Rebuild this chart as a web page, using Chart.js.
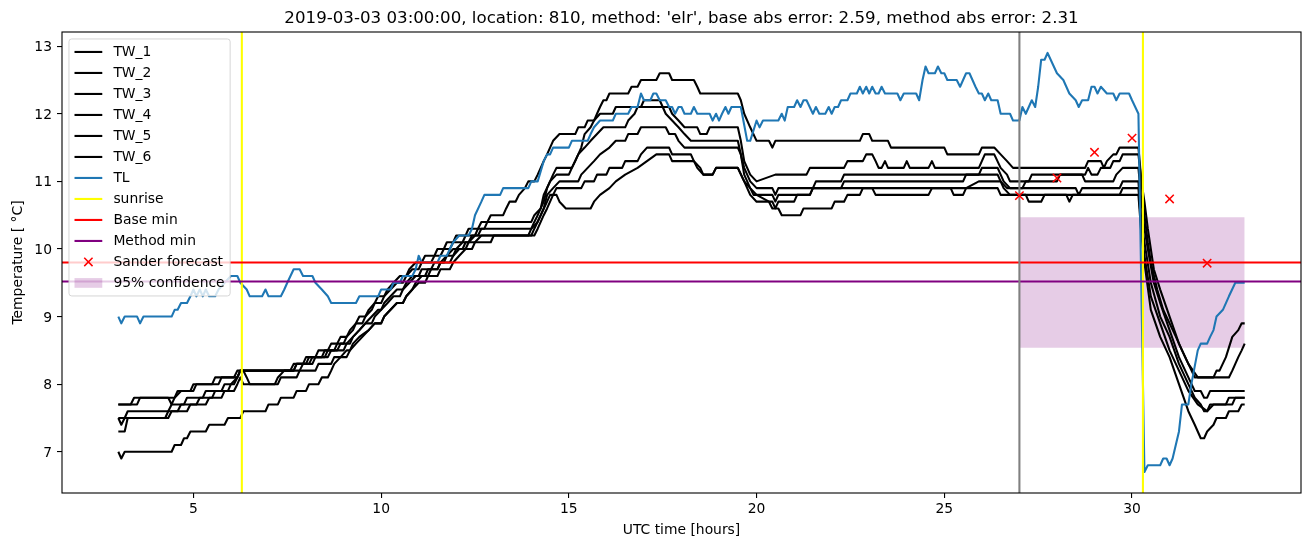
<!DOCTYPE html>
<html><head><meta charset="utf-8">
<script src="https://cdn.jsdelivr.net/npm/chart.js@4/dist/chart.umd.min.js"></script>
<style>html,body{margin:0;padding:0;background:#fff}#wrap{width:1311px;height:547px}</style>
</head><body><div id="wrap"><canvas id="c" width="1311" height="547"></canvas></div>
<script>
// ---------- data (hours UTC, temperature °C) ----------
const TW_1 = [[3.0,7.7],[3.33,7.7],[3.42,7.8],[4.33,7.8],[4.42,7.7],[4.5,7.8],[4.67,7.9],[4.92,7.9],[5.0,8.0],[5.5,8.0],[5.58,8.1],[6.08,8.1],[6.17,8.2],[7.67,8.2],[7.75,8.3],[7.92,8.3],[8.0,8.4],[8.25,8.4],[8.33,8.5],[8.58,8.5],[8.67,8.6],[8.83,8.6],[8.92,8.7],[9.08,8.7],[9.17,8.8],[9.33,8.9],[9.42,9.0],[9.58,9.0],[9.67,9.1],[9.83,9.2],[9.92,9.3],[10.08,9.3],[10.17,9.4],[10.33,9.5],[10.5,9.6],[10.67,9.6],[10.75,9.7],[10.92,9.8],[11.08,9.8],[11.17,9.9],[11.42,9.9],[11.5,10.0],[11.67,10.0],[11.75,10.1],[11.92,10.1],[12.0,10.2],[12.25,10.2],[12.33,10.3],[12.58,10.3],[12.67,10.4],[12.83,10.4],[12.92,10.5],[13.25,10.5],[13.33,10.6],[13.42,10.7],[13.58,10.7],[13.67,10.8],[13.83,10.9],[13.92,11.0],[14.08,11.0],[14.17,11.1],[14.33,11.3],[14.42,11.4],[14.5,11.5],[14.58,11.6],[14.75,11.7],[15.17,11.7],[15.25,11.8],[15.42,11.8],[15.5,11.9],[15.67,11.9],[15.75,12.0],[15.83,12.1],[15.92,12.2],[16.0,12.2],[16.08,12.3],[16.58,12.3],[16.67,12.4],[16.83,12.4],[16.92,12.5],[17.33,12.5],[17.42,12.6],[17.67,12.6],[17.75,12.5],[18.33,12.5],[18.42,12.4],[18.5,12.3],[19.5,12.3],[19.58,12.2],[19.67,12.0],[19.83,11.8],[20.0,11.6],[20.33,11.6],[20.42,11.5],[20.5,11.6],[22.75,11.6],[22.83,11.7],[23.0,11.7],[23.08,11.6],[23.5,11.6],[23.58,11.5],[25.0,11.5],[25.08,11.4],[25.92,11.4],[26.0,11.5],[26.33,11.5],[26.5,11.4],[26.67,11.3],[26.83,11.2],[28.75,11.2],[28.83,11.3],[29.17,11.3],[29.25,11.2],[29.33,11.3],[29.5,11.4],[29.58,11.4],[29.67,11.5],[30.17,11.5],[30.25,11.0],[30.33,10.5],[30.42,10.1],[30.5,9.8],[30.67,9.4],[30.83,9.1],[31.0,8.9],[31.17,8.7],[31.33,8.5],[31.5,8.3],[31.67,8.1],[32.17,8.1],[32.25,8.2],[32.33,8.2],[32.5,8.4],[32.67,8.7],[32.83,8.8],[32.92,8.9],[33.0,8.9]];
const TW_2 = [[3.0,7.7],[3.5,7.7],[3.58,7.8],[4.5,7.8],[4.58,7.9],[5.0,7.9],[5.08,8.0],[5.67,8.0],[5.75,8.1],[6.17,8.1],[6.25,8.2],[7.58,8.2],[7.67,8.3],[8.0,8.3],[8.08,8.4],[8.42,8.4],[8.5,8.5],[8.75,8.5],[8.83,8.6],[9.0,8.6],[9.08,8.7],[9.25,8.8],[9.33,8.9],[9.5,8.9],[9.58,9.0],[9.75,9.1],[9.83,9.2],[10.0,9.2],[10.08,9.3],[10.25,9.4],[10.42,9.5],[10.58,9.5],[10.67,9.6],[10.83,9.7],[11.0,9.7],[11.08,9.8],[11.33,9.8],[11.42,9.9],[11.58,9.9],[11.67,10.0],[11.83,10.0],[11.92,10.1],[12.17,10.1],[12.25,10.2],[12.5,10.2],[12.58,10.3],[12.75,10.3],[12.83,10.4],[14.0,10.4],[14.08,10.5],[14.25,10.6],[14.33,10.8],[14.5,11.0],[14.58,11.1],[14.67,11.2],[15.08,11.2],[15.17,11.3],[15.33,11.5],[15.42,11.7],[15.58,11.8],[15.67,11.9],[15.83,12.0],[16.17,12.0],[16.25,12.1],[16.92,12.1],[17.0,12.2],[17.42,12.2],[17.5,12.1],[17.67,12.1],[17.75,12.0],[17.92,11.9],[18.08,11.8],[18.42,11.8],[18.5,11.7],[18.67,11.7],[18.75,11.8],[19.5,11.8],[19.58,11.6],[19.67,11.3],[19.83,11.1],[20.0,11.0],[20.5,11.1],[21.33,11.1],[21.42,11.2],[22.33,11.2],[22.42,11.3],[22.83,11.3],[22.92,11.4],[23.08,11.4],[23.17,11.3],[23.25,11.2],[23.33,11.2],[23.42,11.3],[23.5,11.2],[23.92,11.2],[24.0,11.3],[24.08,11.2],[24.58,11.2],[24.67,11.3],[24.75,11.2],[25.92,11.2],[26.0,11.3],[26.08,11.4],[26.33,11.4],[26.5,11.2],[26.67,11.1],[26.75,11.0],[27.25,11.0],[27.33,11.1],[28.75,11.1],[28.83,11.2],[28.92,11.1],[29.08,11.1],[29.17,11.2],[29.42,11.2],[29.5,11.3],[29.67,11.3],[29.75,11.4],[30.17,11.4],[30.25,11.0],[30.33,10.7],[30.42,10.3],[30.5,10.0],[30.58,9.7],[30.75,9.4],[31.0,9.0],[31.25,8.6],[31.5,8.3],[31.75,8.1],[32.5,8.1],[32.58,8.1],[32.67,8.2],[32.75,8.3],[32.83,8.4],[32.92,8.5],[33.0,8.6]];
const TW_3 = [[3.0,7.5],[3.08,7.4],[3.17,7.5],[3.25,7.6],[4.33,7.6],[4.42,7.7],[4.75,7.7],[4.83,7.8],[5.25,7.8],[5.33,7.9],[5.75,7.9],[5.83,8.0],[6.08,8.0],[6.17,8.1],[6.25,8.2],[6.33,8.2],[6.42,8.1],[6.5,8.0],[7.17,8.0],[7.25,8.1],[7.42,8.2],[7.67,8.2],[7.75,8.3],[8.08,8.3],[8.17,8.4],[8.5,8.4],[8.58,8.5],[8.83,8.5],[8.92,8.6],[9.17,8.6],[9.25,8.7],[9.42,8.8],[9.58,8.9],[9.75,9.0],[9.92,9.1],[10.0,9.1],[10.08,9.2],[10.25,9.3],[10.42,9.4],[10.58,9.4],[10.67,9.5],[10.83,9.6],[11.0,9.6],[11.08,9.7],[11.33,9.7],[11.42,9.8],[11.67,9.8],[11.75,9.9],[11.92,9.9],[12.0,10.0],[12.17,10.1],[12.33,10.1],[12.42,10.2],[12.58,10.2],[12.67,10.3],[14.0,10.3],[14.08,10.4],[14.17,10.5],[14.33,10.7],[14.42,10.9],[14.5,11.0],[14.67,11.1],[15.0,11.1],[15.08,11.2],[15.25,11.4],[15.42,11.5],[15.58,11.6],[15.75,11.7],[15.92,11.8],[16.5,11.8],[16.58,11.9],[16.75,12.0],[16.83,12.1],[17.5,12.1],[17.58,12.0],[17.75,11.9],[17.92,11.8],[18.08,11.7],[18.25,11.6],[19.5,11.6],[19.58,11.4],[19.67,11.2],[19.83,11.0],[20.0,10.9],[20.42,10.9],[20.5,10.8],[20.58,10.9],[21.5,10.9],[21.58,11.0],[22.25,11.0],[22.33,11.1],[25.92,11.1],[26.0,11.2],[26.42,11.2],[26.5,11.1],[26.58,11.0],[26.75,10.9],[27.08,10.9],[27.17,11.0],[28.0,11.0],[28.08,11.1],[28.67,11.1],[28.75,11.0],[29.5,11.0],[29.58,11.1],[29.75,11.2],[30.17,11.2],[30.25,10.7],[30.33,10.3],[30.42,10.0],[30.58,9.5],[30.75,9.2],[31.0,8.8],[31.25,8.4],[31.5,8.1],[31.67,7.9],[31.83,7.9],[31.92,7.8],[32.0,7.8],[32.08,7.9],[33.0,7.9]];
const TW_4 = [[3.0,7.5],[4.25,7.5],[4.33,7.6],[4.58,7.6],[4.67,7.7],[5.08,7.7],[5.17,7.8],[5.5,7.8],[5.58,7.9],[5.92,7.9],[6.0,8.0],[6.17,8.1],[6.25,8.2],[7.83,8.2],[7.92,8.3],[8.17,8.3],[8.25,8.4],[8.58,8.4],[8.67,8.5],[9.0,8.5],[9.08,8.6],[9.25,8.7],[9.42,8.8],[9.58,8.9],[9.75,8.9],[9.83,9.0],[10.0,9.1],[10.17,9.2],[10.33,9.3],[10.5,9.3],[10.58,9.4],[10.75,9.5],[10.92,9.6],[11.17,9.6],[11.25,9.7],[11.5,9.7],[11.58,9.8],[11.83,9.8],[11.92,9.9],[12.08,10.0],[12.25,10.0],[12.33,10.1],[12.5,10.2],[14.0,10.2],[14.08,10.3],[14.25,10.5],[14.33,10.6],[14.42,10.8],[14.58,10.9],[14.75,11.0],[15.25,11.0],[15.33,11.1],[15.5,11.2],[15.67,11.3],[15.83,11.4],[16.08,11.5],[16.25,11.6],[16.5,11.6],[16.58,11.7],[16.83,11.7],[16.92,11.8],[17.58,11.8],[17.67,11.7],[17.83,11.7],[17.92,11.6],[18.08,11.5],[19.5,11.5],[19.58,11.4],[19.67,11.1],[19.83,10.9],[19.92,10.8],[20.42,10.8],[20.5,10.7],[20.58,10.8],[21.42,10.8],[21.5,10.9],[22.25,10.9],[22.33,11.0],[25.5,11.0],[25.58,11.1],[26.42,11.1],[26.5,11.0],[26.67,10.9],[28.5,10.9],[28.58,10.8],[28.67,10.9],[29.67,10.9],[29.75,11.0],[30.17,11.0],[30.25,10.4],[30.33,10.1],[30.5,9.5],[30.75,9.0],[31.0,8.7],[31.25,8.3],[31.5,8.0],[31.67,7.8],[31.83,7.7],[31.92,7.6],[32.0,7.6],[32.08,7.7],[32.5,7.7],[32.58,7.8],[33.0,7.8]];
const TW_5 = [[3.0,7.3],[3.17,7.3],[3.25,7.5],[4.33,7.5],[4.42,7.6],[4.83,7.6],[4.92,7.7],[5.33,7.7],[5.42,7.8],[5.75,7.8],[5.83,7.9],[6.08,7.9],[6.17,8.0],[6.25,8.1],[6.33,8.0],[7.25,8.0],[7.33,8.1],[7.75,8.1],[7.83,8.2],[8.25,8.2],[8.33,8.3],[8.67,8.3],[8.75,8.4],[9.08,8.4],[9.17,8.5],[9.33,8.6],[9.5,8.7],[9.67,8.8],[9.83,8.9],[10.0,8.9],[10.08,9.0],[10.25,9.1],[10.42,9.2],[10.58,9.2],[10.67,9.3],[10.83,9.4],[11.0,9.5],[11.17,9.5],[11.25,9.6],[11.5,9.6],[11.58,9.7],[11.83,9.7],[11.92,9.8],[12.08,9.9],[12.25,10.0],[12.42,10.0],[12.5,10.1],[12.67,10.2],[14.08,10.2],[14.17,10.3],[14.33,10.5],[14.42,10.6],[14.58,10.8],[14.67,10.9],[15.33,10.9],[15.42,11.0],[15.67,11.0],[15.75,11.1],[16.0,11.1],[16.08,11.2],[16.42,11.2],[16.5,11.3],[16.83,11.3],[16.92,11.4],[17.08,11.5],[17.67,11.5],[17.75,11.4],[18.25,11.4],[18.33,11.3],[18.5,11.2],[18.58,11.1],[18.83,11.1],[18.92,11.2],[19.5,11.2],[19.67,11.0],[19.83,10.8],[20.0,10.7],[20.42,10.7],[20.5,10.6],[20.58,10.7],[21.0,10.7],[21.08,10.8],[21.42,10.8],[21.5,10.9],[26.42,10.9],[26.5,10.8],[28.25,10.8],[28.33,10.7],[28.42,10.8],[29.67,10.8],[29.75,10.9],[30.17,10.9],[30.25,10.3],[30.33,9.9],[30.5,9.3],[30.75,8.9],[31.0,8.5],[31.25,8.2],[31.5,7.9],[31.75,7.7],[32.0,7.6],[32.17,7.7],[32.67,7.7],[32.75,7.8],[33.0,7.8]];
const TW_6 = [[3.0,7.0],[3.08,6.9],[3.17,7.0],[4.42,7.0],[4.5,7.1],[4.67,7.1],[4.75,7.2],[4.83,7.2],[4.92,7.3],[5.33,7.3],[5.42,7.4],[5.83,7.4],[5.92,7.5],[6.25,7.5],[6.33,7.6],[6.92,7.6],[7.0,7.7],[7.25,7.7],[7.33,7.8],[7.67,7.8],[7.75,7.9],[8.0,7.9],[8.08,8.0],[8.33,8.0],[8.42,8.1],[8.58,8.1],[8.67,8.2],[8.75,8.3],[8.92,8.4],[9.08,8.5],[9.17,8.5],[9.25,8.6],[9.42,8.7],[9.67,8.8],[9.83,8.9],[10.0,8.9],[10.08,9.0],[10.25,9.1],[10.42,9.2],[10.58,9.2],[10.67,9.3],[10.83,9.4],[10.92,9.5],[11.08,9.6],[11.25,9.6],[11.33,9.7],[11.5,9.7],[11.58,9.8],[11.75,9.9],[11.92,10.0],[12.17,10.0],[12.25,10.1],[12.92,10.1],[13.0,10.2],[13.92,10.2],[14.0,10.3],[14.17,10.4],[14.25,10.5],[14.42,10.7],[14.5,10.8],[14.67,10.8],[14.75,10.7],[14.92,10.6],[15.58,10.6],[15.67,10.7],[15.83,10.8],[16.08,10.9],[16.25,11.0],[16.5,11.1],[16.83,11.2],[17.08,11.3],[17.33,11.4],[17.67,11.4],[17.75,11.3],[18.33,11.3],[18.42,11.2],[18.58,11.1],[18.83,11.1],[18.92,11.2],[19.5,11.2],[19.67,11.0],[19.83,10.9],[20.0,10.8],[20.33,10.7],[20.42,10.6],[20.58,10.6],[20.67,10.5],[21.17,10.5],[21.25,10.6],[22.0,10.6],[22.08,10.7],[22.33,10.7],[22.42,10.8],[22.75,10.8],[22.83,10.9],[23.08,10.9],[23.17,10.8],[24.58,10.8],[24.67,10.9],[25.17,10.9],[25.25,10.8],[25.5,10.8],[25.58,10.9],[25.92,11.0],[26.5,11.0],[26.58,10.9],[26.75,10.8],[27.17,10.8],[27.25,10.7],[27.58,10.7],[27.67,10.8],[30.17,10.8],[30.25,10.2],[30.33,9.8],[30.5,9.1],[30.75,8.7],[31.0,8.4],[31.25,8.0],[31.5,7.6],[31.67,7.4],[31.83,7.2],[31.92,7.2],[32.0,7.3],[32.17,7.4],[32.25,7.5],[32.5,7.5],[32.58,7.6],[32.83,7.6],[32.92,7.7],[33.0,7.7]];
const TL = [[3.0,9.0],[3.08,8.9],[3.17,9.0],[3.5,9.0],[3.58,8.9],[3.67,9.0],[4.42,9.0],[4.5,9.1],[4.58,9.1],[4.67,9.2],[4.83,9.2],[4.92,9.3],[5.0,9.4],[5.08,9.3],[5.17,9.4],[5.25,9.3],[5.33,9.4],[5.42,9.3],[5.58,9.3],[5.67,9.4],[5.83,9.5],[6.0,9.6],[6.17,9.6],[6.25,9.5],[6.42,9.4],[6.5,9.3],[6.83,9.3],[6.92,9.4],[7.0,9.3],[7.33,9.3],[7.42,9.4],[7.5,9.5],[7.67,9.7],[7.83,9.7],[7.92,9.6],[8.17,9.6],[8.25,9.5],[8.42,9.4],[8.58,9.3],[8.67,9.2],[9.33,9.2],[9.42,9.3],[9.92,9.3],[10.0,9.4],[10.25,9.4],[10.33,9.5],[10.5,9.5],[10.58,9.6],[10.83,9.6],[10.92,9.7],[11.0,9.9],[11.08,9.8],[11.5,9.8],[11.58,9.9],[11.75,9.9],[11.83,10.0],[11.92,10.1],[12.08,10.2],[12.33,10.2],[12.42,10.3],[12.5,10.5],[12.67,10.7],[12.75,10.8],[13.17,10.8],[13.25,10.9],[13.92,10.9],[14.0,11.0],[14.17,11.0],[14.33,11.3],[14.42,11.4],[14.5,11.4],[14.58,11.5],[15.0,11.5],[15.08,11.6],[15.5,11.6],[15.58,11.7],[15.67,11.8],[15.83,11.9],[16.17,11.9],[16.25,12.0],[16.58,12.0],[16.67,12.1],[16.83,12.1],[16.92,12.3],[17.0,12.2],[17.17,12.2],[17.25,12.3],[17.33,12.3],[17.42,12.2],[17.58,12.2],[17.67,12.1],[17.75,12.1],[17.83,12.0],[17.92,12.1],[18.0,12.1],[18.08,12.0],[18.25,12.0],[18.33,12.1],[18.42,12.0],[18.75,12.0],[18.83,11.9],[18.92,12.0],[19.0,11.9],[19.08,12.0],[19.17,12.1],[19.25,12.0],[19.33,12.1],[19.58,12.1],[19.75,11.6],[19.83,11.6],[20.0,11.9],[20.08,11.8],[20.17,11.9],[20.58,11.9],[20.67,12.0],[20.75,11.9],[20.83,12.1],[21.0,12.1],[21.08,12.2],[21.17,12.1],[21.25,12.2],[21.33,12.2],[21.5,12.0],[21.58,12.1],[21.67,12.0],[21.83,12.0],[21.92,12.1],[22.0,12.0],[22.08,12.1],[22.17,12.1],[22.25,12.2],[22.42,12.2],[22.5,12.3],[22.67,12.3],[22.75,12.4],[22.83,12.3],[22.92,12.4],[23.0,12.3],[23.08,12.4],[23.17,12.3],[23.25,12.3],[23.33,12.4],[23.42,12.3],[23.75,12.3],[23.83,12.2],[23.92,12.3],[24.25,12.3],[24.33,12.2],[24.42,12.5],[24.5,12.7],[24.58,12.6],[24.75,12.6],[24.83,12.7],[24.92,12.6],[25.0,12.6],[25.08,12.5],[25.33,12.5],[25.42,12.4],[25.5,12.5],[25.58,12.6],[25.67,12.6],[25.75,12.5],[25.83,12.4],[25.92,12.3],[26.0,12.3],[26.08,12.2],[26.17,12.3],[26.25,12.2],[26.42,12.2],[26.5,12.0],[26.75,12.0],[26.83,11.9],[27.0,11.9],[27.08,12.1],[27.17,12.0],[27.33,12.2],[27.42,12.1],[27.5,12.4],[27.58,12.8],[27.67,12.8],[27.75,12.9],[28.0,12.6],[28.17,12.5],[28.25,12.4],[28.33,12.3],[28.5,12.2],[28.58,12.1],[28.67,12.2],[28.83,12.2],[28.92,12.4],[29.0,12.4],[29.08,12.3],[29.17,12.4],[29.33,12.3],[29.5,12.3],[29.58,12.2],[29.67,12.3],[29.92,12.3],[30.0,12.2],[30.17,12.0],[30.33,6.7],[30.42,6.8],[30.75,6.8],[30.83,6.9],[30.92,6.9],[31.0,6.8],[31.08,6.9],[31.25,7.3],[31.33,7.7],[31.5,7.7],[31.58,8.0],[31.75,8.5],[31.83,8.6],[32.0,8.6],[32.08,8.7],[32.17,8.8],[32.25,9.0],[32.42,9.1],[32.5,9.2],[32.58,9.3],[32.75,9.5],[33.0,9.5]];
const sunriseHours = [6.29, 30.29];
const forecastStartHour = 27.0;
const baseMin = 9.80;
const methodMin = 9.52;
const sanderHours = [27, 28, 29, 30, 31, 32];
const sanderTemps = [10.79, 11.05, 11.43, 11.64, 10.74, 9.79];
const confHours = [27, 33];
const confLow = [8.54, 8.54];
const confHigh = [10.47, 10.47];
const xTicks = [5, 10, 15, 20, 25, 30];
const yTicks = [7, 8, 9, 10, 11, 12, 13];
const xLimits = [1.5, 34.5];
const yLimits = [6.39, 13.21];
const titleText = "2019-03-03 03:00:00, location: 810, method: 'elr', base abs error: 2.59, method abs error: 2.31";

// ---------- chart ----------
const FONT = "'DejaVu Sans', 'Liberation Sans', sans-serif";
const FS = 13.89;
const LW = 2.08;
const pts = a => a.map(([x, y]) => ({x, y}));
const line = (label, data, color, legend) => ({
  label, data, borderColor: color, backgroundColor: color, borderWidth: LW,
  pointRadius: 0, pointHoverRadius: 0, fill: false, tension: 0,
  borderJoinStyle: 'round', showLine: true, legendKind: legend ? 'line' : null
});
const PURPLE_FILL = 'rgba(128,0,128,0.2)';
const datasets = [];
datasets.push({label: 'confLow', data: confHours.map((h, i) => ({x: h, y: confLow[i]})), borderWidth: 0, pointRadius: 0, fill: false, showLine: true, borderColor: 'rgba(0,0,0,0)'});
datasets.push({label: '95% confidence', data: confHours.map((h, i) => ({x: h, y: confHigh[i]})), borderWidth: 0, pointRadius: 0, fill: '-1', backgroundColor: PURPLE_FILL, borderColor: 'rgba(0,0,0,0)', showLine: true, legendKind: 'patch', legendColor: PURPLE_FILL});
[TW_1, TW_2, TW_3, TW_4, TW_5, TW_6].forEach((s, i) => datasets.push(line('TW_' + (i + 1), pts(s), '#000000', true)));
datasets.push(line('TL', pts(TL), '#1f77b4', true));
sunriseHours.forEach((h, i) => datasets.push(line('sunrise', [{x: h, y: yLimits[0]}, {x: h, y: yLimits[1]}], '#ffff00', i === 0)));
datasets.push(line('Base min', [{x: xLimits[0], y: baseMin}, {x: xLimits[1], y: baseMin}], '#ff0000', true));
datasets.push(line('Method min', [{x: xLimits[0], y: methodMin}, {x: xLimits[1], y: methodMin}], '#800080', true));
datasets.push(line('forecast start', [{x: forecastStartHour, y: yLimits[0]}, {x: forecastStartHour, y: yLimits[1]}], '#808080', false));
datasets.push({label: 'Sander forecast', data: sanderHours.map((h, i) => ({x: h, y: sanderTemps[i]})), showLine: false,
  pointStyle: 'crossRot', pointRadius: 5.9, pointHoverRadius: 5.9, pointBorderWidth: 1.5, borderColor: '#ff0000', backgroundColor: '#ff0000', legendKind: 'marker'});
datasets.forEach((d, i) => { d.order = -i; });

const legendOrder = ['TW_1','TW_2','TW_3','TW_4','TW_5','TW_6','TL','sunrise','Base min','Method min','Sander forecast','95% confidence'];

const framePlugin = {
  id: 'frame',
  afterDatasetsDraw(chart) {
    const {ctx, chartArea: a} = chart;
    ctx.save();
    ctx.strokeStyle = '#000'; ctx.lineWidth = 1.1;
    ctx.strokeRect(a.left, a.top, a.right - a.left, a.bottom - a.top);
    ctx.restore();
  },
  afterDraw(chart) {
    const {ctx, chartArea: a} = chart;
    ctx.save();
    ctx.fillStyle = '#000';
    ctx.font = '16.67px ' + FONT;
    ctx.textAlign = 'center'; ctx.textBaseline = 'alphabetic';
    ctx.fillText(titleText, (a.left + a.right) / 2, a.top - 9);
    const items = legendOrder.map(name => chart.data.datasets.find(d => d.label === name && d.legendKind));
    ctx.font = FS + 'px ' + FONT;
    let maxW = 0; items.forEach(d => { maxW = Math.max(maxW, ctx.measureText(d.label).width); });
    const pad = 0.4 * FS, rowH = 21.0, handleL = 2.0 * FS, textPad = 0.8 * FS;
    const bx = a.left + 0.5 * FS, by = a.top + 0.5 * FS;
    const bw = pad + handleL + textPad + maxW + pad;
    const bh = pad + rowH * (items.length - 1) + FS + pad + 1;
    const r = 0.2 * FS;
    ctx.beginPath();
    ctx.moveTo(bx + r, by); ctx.lineTo(bx + bw - r, by); ctx.quadraticCurveTo(bx + bw, by, bx + bw, by + r);
    ctx.lineTo(bx + bw, by + bh - r); ctx.quadraticCurveTo(bx + bw, by + bh, bx + bw - r, by + bh);
    ctx.lineTo(bx + r, by + bh); ctx.quadraticCurveTo(bx, by + bh, bx, by + bh - r);
    ctx.lineTo(bx, by + r); ctx.quadraticCurveTo(bx, by, bx + r, by); ctx.closePath();
    ctx.fillStyle = 'rgba(255,255,255,0.8)'; ctx.fill();
    ctx.strokeStyle = 'rgba(204,204,204,0.8)'; ctx.lineWidth = 1.0; ctx.stroke();
    const hx0 = bx + pad, hx1 = hx0 + handleL, tx = hx1 + textPad;
    items.forEach((d, k) => {
      const cy = by + pad + FS / 2 + 0.5 + k * rowH;
      if (d.legendKind === 'line') {
        ctx.strokeStyle = d.borderColor; ctx.lineWidth = LW;
        ctx.beginPath(); ctx.moveTo(hx0, cy); ctx.lineTo(hx1, cy); ctx.stroke();
      } else if (d.legendKind === 'marker') {
        const cx = (hx0 + hx1) / 2, s = 4.15;
        ctx.strokeStyle = '#ff0000'; ctx.lineWidth = 1.5;
        ctx.beginPath(); ctx.moveTo(cx - s, cy - s); ctx.lineTo(cx + s, cy + s);
        ctx.moveTo(cx - s, cy + s); ctx.lineTo(cx + s, cy - s); ctx.stroke();
      } else if (d.legendKind === 'patch') {
        ctx.fillStyle = d.legendColor;
        ctx.fillRect(hx0, cy - 0.35 * FS, handleL, 0.7 * FS);
      }
      ctx.fillStyle = '#000'; ctx.textAlign = 'left'; ctx.textBaseline = 'middle';
      ctx.fillText(d.label, tx, cy + 0.5);
    });
    ctx.restore();
  }
};

Chart.defaults.font.family = FONT;
Chart.defaults.font.size = FS;
Chart.defaults.color = '#000';

new Chart(document.getElementById('c'), {
  type: 'line',
  data: {datasets},
  options: {
    responsive: false, animation: false, devicePixelRatio: 1,
    events: [],
    layout: {padding: {left: 0, right: 10, top: 32, bottom: 0}},
    plugins: {legend: {display: false}, title: {display: false}, tooltip: {enabled: false}},
    scales: {
      x: {
        type: 'linear', min: xLimits[0], max: xLimits[1],
        afterBuildTicks: s => { s.ticks = xTicks.map(v => ({value: v})); },
        afterFit: s => { s.height = 54; },
        grid: {display: true, drawOnChartArea: false, drawTicks: true, tickLength: 5, color: '#000', lineWidth: 1.1},
        border: {display: false},
        ticks: {padding: 3, font: {size: FS}, color: '#000', maxRotation: 0, autoSkip: false},
        title: {display: true, text: 'UTC time [hours]', font: {size: FS}, color: '#000', padding: {top: 0, bottom: 8}}
      },
      y: {
        type: 'linear', min: yLimits[0], max: yLimits[1],
        afterBuildTicks: s => { s.ticks = yTicks.map(v => ({value: v})); },
        afterFit: s => { s.width = 62; },
        grid: {display: true, drawOnChartArea: false, drawTicks: true, tickLength: 5, color: '#000', lineWidth: 1.1},
        border: {display: false},
        ticks: {padding: 5, labelOffset: 1.5, font: {size: FS}, color: '#000', autoSkip: false},
        title: {display: true, text: 'Temperature [ °C]', font: {size: FS}, color: '#000', padding: {top: 10, bottom: 0}}
      }
    }
  },
  plugins: [framePlugin]
});
</script></body></html>
